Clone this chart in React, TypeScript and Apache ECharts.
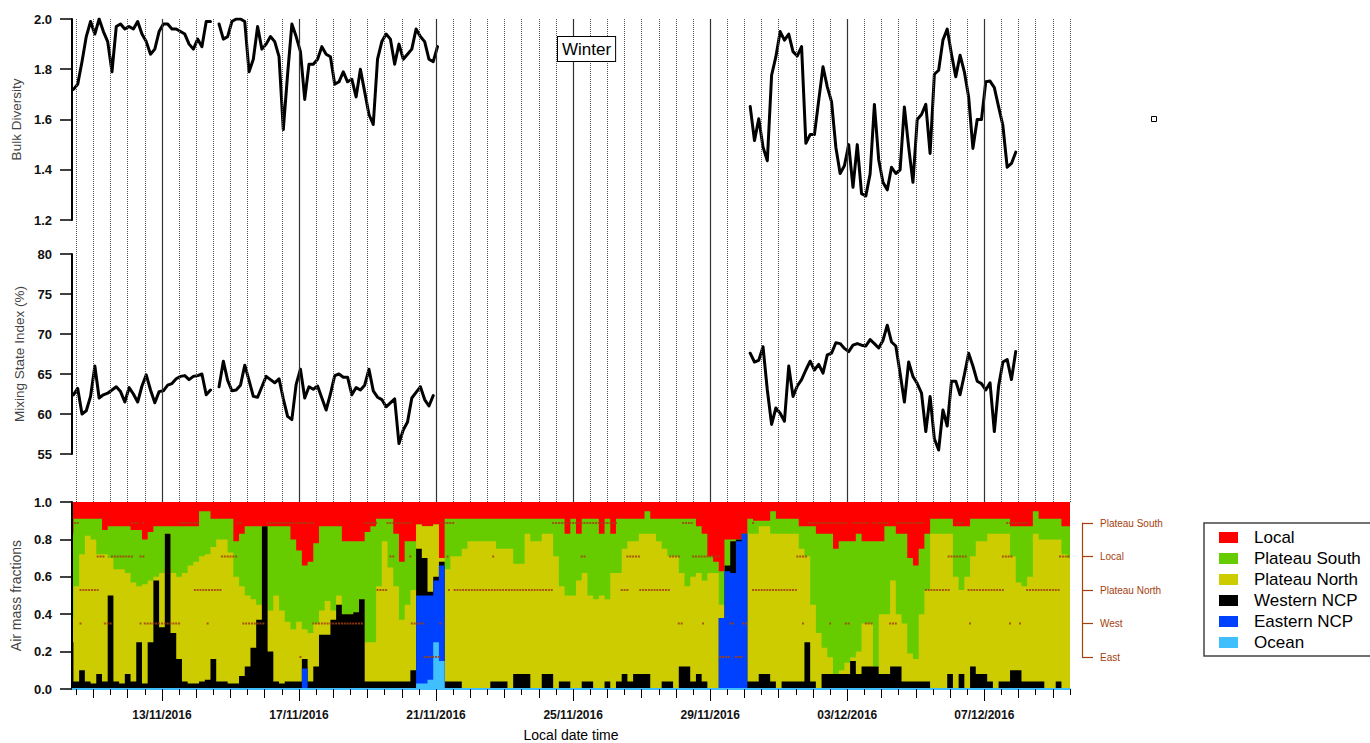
import React, { useEffect, useRef } from "react";
import * as echarts from "echarts";

const FONT = "'Liberation Sans', Arial, Helvetica, sans-serif";

// x axis in hours after 10/11/2016 00:00 local time
const X_MIN = 9;
const X_MAX = 708;
const TICK_HOURS = [72, 168, 264, 360, 456, 552, 648];
const TICK_LABELS = ["13/11/2016", "17/11/2016", "21/11/2016", "25/11/2016", "29/11/2016", "03/12/2016", "07/12/2016"];
const GRID_STEP_HOURS = 12;
const DAY_HOURS = 24;

// ---- Bulk diversity (3-hourly, from hour 10) ----
const TS_START = 10;
const TS_STEP = 3;
const SEG_OFFSETS = [0, 34, 158];
const BD_SEG1 = [1.72, 1.74, 1.83, 1.93, 1.99, 1.94, 2.0, 1.95, 1.91, 1.79, 1.97, 1.98, 1.96, 1.97, 1.96, 1.99, 1.94, 1.91, 1.86, 1.88, 1.95, 1.98, 1.98, 1.96, 1.96, 1.95, 1.94, 1.9, 1.88, 1.92, 1.89, 1.99, 1.99];
const BD_SEG2 = [1.98, 1.92, 1.93, 1.99, 2.0, 2.0, 1.99, 1.79, 1.84, 1.97, 1.88, 1.9, 1.93, 1.91, 1.85, 1.56, 1.78, 1.98, 1.93, 1.87, 1.68, 1.82, 1.82, 1.84, 1.89, 1.86, 1.85, 1.74, 1.75, 1.79, 1.75, 1.76, 1.69, 1.8, 1.71, 1.62, 1.58, 1.84, 1.91, 1.94, 1.92, 1.82, 1.9, 1.84, 1.86, 1.88, 1.96, 1.93, 1.91, 1.84, 1.83, 1.89];
const BD_SEG3 = [1.652, 1.516, 1.603, 1.49, 1.436, 1.776, 1.85, 1.95, 1.916, 1.94, 1.87, 1.853, 1.89, 1.505, 1.54, 1.54, 1.676, 1.81, 1.73, 1.67, 1.49, 1.385, 1.416, 1.5, 1.33, 1.5, 1.305, 1.296, 1.383, 1.66, 1.44, 1.35, 1.32, 1.41, 1.385, 1.4, 1.65, 1.49, 1.35, 1.6, 1.62, 1.66, 1.465, 1.78, 1.796, 1.916, 1.96, 1.86, 1.77, 1.856, 1.79, 1.69, 1.485, 1.6, 1.6, 1.75, 1.753, 1.727, 1.65, 1.576, 1.41, 1.425, 1.47];

// ---- Mixing state index (%) ----
const MSI_SEG1 = [62.4, 63.2, 60.0, 60.4, 62.2, 66.0, 62.0, 62.4, 62.6, 63.0, 63.4, 62.8, 61.5, 63.3, 62.5, 61.5, 63.5, 64.9, 63.0, 61.4, 62.8, 62.9, 63.6, 63.8, 64.4, 64.7, 64.8, 64.3, 64.7, 64.8, 65.0, 62.4, 63.0];
const MSI_SEG2 = [63.4, 66.6, 64.2, 62.9, 63.0, 63.6, 66.1, 64.2, 62.2, 62.1, 63.4, 64.7, 64.3, 63.9, 64.4, 61.9, 59.7, 59.3, 63.7, 65.6, 62.0, 63.4, 63.1, 63.5, 62.0, 60.5, 62.5, 64.8, 65.0, 64.6, 64.6, 62.4, 63.3, 63.0, 63.6, 65.6, 62.9, 62.1, 61.8, 60.9, 61.4, 61.9, 56.3, 58.0, 59.0, 62.0, 62.7, 63.4, 61.8, 61.0, 62.3];
const MSI_SEG3 = [67.6, 66.5, 66.7, 68.4, 63.0, 58.7, 60.75, 60.1, 59.1, 66.0, 62.2, 63.5, 64.3, 65.5, 66.6, 65.5, 66.2, 65.1, 67.4, 67.6, 68.9, 68.8, 68.2, 67.8, 68.6, 68.8, 68.6, 68.5, 69.3, 68.8, 68.25, 69.2, 71.1, 69.0, 68.5, 65.1, 61.5, 66.5, 64.7, 63.8, 62.6, 57.8, 62.2, 56.9, 55.5, 60.5, 58.5, 64.1, 64.1, 62.4, 64.9, 67.6, 66.0, 64.1, 63.8, 63.0, 63.9, 57.8, 63.5, 66.5, 66.8, 64.3, 67.8];

// ---- Air mass fractions (4-hourly, from hour 8) ----
const AM_START = 8;
const AM_STEP = 4;
const LOCAL = [
  .17, .09, .09, .09, .09, .09, .15, .13, .13, .13,
  .13, .15, .15, .20, .16, .13, .13, .13, .13, .13,
  .13, .13, .13, .05, .05, .09, .09, .09, .09, .21,
  .17, .13, .13, .13, .13, .13, .13, .13, .13, .20,
  .26, .34, .32, .22, .13, .13, .13, .13, .21, .21,
  .21, .21, .16, .13, .09, .09, .09, .17, .32, .21,
  .21, .12, .13, .13, .12, .30, .09, .09, .09, .09,
  .09, .09, .09, .09, .09, .09, .09, .09, .09, .09,
  .09, .09, .09, .09, .09, .09, .09, .17, .09, .17,
  .09, .09, .09, .17, .09, .17, .09, .09, .09, .09,
  .09, .05, .09, .09, .09, .09, .09, .09, .09, .09,
  .13, .17, .29, .32, .37, .20, .20, .20, .17, .09,
  .10, .10, .10, .05, .09, .09, .09, .09, .13, .13,
  .13, .17, .17, .17, .25, .21, .21, .21, .17, .21,
  .21, .21, .21, .13, .13, .17, .17, .30, .34, .25,
  .17, .09, .09, .09, .09, .13, .13, .13, .09, .09,
  .09, .09, .09, .09, .09, .13, .13, .13, .13, .05,
  .09, .09, .09, .09, .13, .13,
];
const PLATEAU_SOUTH = [
  .45, .36, .19, .09, .11, .19, .13, .17, .23, .23,
  .25, .28, .30, .24, .26, .27, .25, .04, .25, .27,
  .25, .21, .19, .24, .23, .15, .11, .11, .18, .19,
  .28, .37, .39, .42, 0, .45, .37, .45, .51, .48,
  .38, .34, .38, .43, .45, .40, .45, .37, .39, .39,
  .38, .31, .59, .62, .36, .12, .26, .28, .31, .34,
  .26, 0, 0, 0, 0, 0, .27, .20, .20, .16,
  .12, .12, .12, .12, .12, .16, .16, .16, .24, .24,
  .08, .12, .12, .08, .08, .20, .36, .33, .41, .25,
  .29, .41, .43, .33, .43, .21, .29, .16, .12, .12,
  .08, .12, .08, .12, .16, .20, .20, .29, .36, .31,
  .25, .25, .09, .06, .18, .14, .01, 0, 0, .08,
  .07, .03, .03, .12, .08, .08, .08, .08, .12, .16,
  .42, .53, .61, .66, .67, .69, .65, .62, .63, .44,
  .44, .67, .39, .47, .29, .43, .48, .51, .50, .35,
  .30, .08, .08, .08, .08, .27, .34, .27, .20, .12,
  .12, .08, .08, .08, .08, .16, .30, .32, .27, .12,
  .11, .11, .11, .11, .15, .17,
];
const PLATEAU_NORTH = [
  .13, .51, .62, .78, .77, .64, .68, .20, .60, .61,
  .54, .53, .30, .53, .33, .02, .29, 0, .32, .44,
  .58, .63, .65, .67, .67, .60, .76, .76, .70, .57,
  .48, .38, .26, .08, 0, .22, .46, .39, .32, .28,
  .32, .16, .26, .23, .13, .18, .05, .05, 0, 0,
  0, 0, .21, .21, .51, .75, .61, .51, .33, .41,
  .43, .13, .17, .35, .28, .02, .60, .67, .67, .75,
  .79, .79, .79, .79, .75, .71, .71, .75, .59, .59,
  .75, .79, .79, .75, .75, .71, .51, .46, .50, .58,
  .58, .46, .48, .50, .44, .62, .58, .67, .75, .71,
  .75, .75, .83, .79, .71, .67, .71, .50, .43, .56,
  .54, .54, .62, .62, .07, 0, 0, 0, 0, .79,
  .79, .79, .79, .79, .83, .79, .79, .79, .71, .46,
  .41, .30, .14, .09, 0, .02, .06, .02, .12, .23,
  .23, 0, .32, .32, .46, .28, .31, .15, .12, .36,
  .49, .83, .83, .83, .75, .60, .45, .60, .59, .71,
  .71, .79, .83, .79, .79, .61, .47, .51, .56, .79,
  .76, .80, .80, .76, .72, .70,
];
const WESTERN_NCP = [
  .25, .04, .10, .04, .03, .08, .04, .50, .04, .03,
  .08, .04, .25, .03, .25, .58, .33, .83, .30, .16,
  .04, .03, .03, .04, .05, .16, .04, .04, .03, .03,
  .07, .12, .22, .37, .87, .20, .04, .03, .04, .04,
  .04, .05, .04, .12, .29, .29, .37, .45, .40, .40,
  .41, .48, .04, .04, .04, .04, .04, .04, .04, .04,
  .10, .25, .20, .02, .02, .02, .04, .04, .04, 0,
  0, 0, 0, 0, .04, .04, .04, 0, .08, .08,
  .08, 0, 0, .08, .08, 0, .04, .04, 0, 0,
  .04, .04, 0, 0, .04, 0, .04, .08, .04, .08,
  .08, .08, 0, 0, .04, .04, 0, .12, .12, .04,
  .08, .04, 0, 0, 0, .03, .17, .01, 0, .04,
  .04, .08, .08, .04, 0, .04, .04, .04, .04, .25,
  .04, 0, .08, .08, .08, .08, .08, .15, .08, .12,
  .12, .12, .08, .08, .12, .12, .04, .04, .04, .04,
  .04, 0, 0, 0, .08, 0, .08, 0, .12, .08,
  .08, .04, 0, .04, .04, .10, .10, .04, .04, .04,
  .04, 0, 0, .04, 0, 0,
];
// [hour, fraction]; zero elsewhere
const EASTERN_NCP = [[172, .11], [252, .47], [256, .47], [260, .45], [264, .33], [268, .51], [464, .38], [468, .63], [472, .62], [476, .79], [480, .83]];
const OCEAN = [[252, .03], [256, .03], [260, .05], [264, .25], [268, .15]];

// ---- Cluster markers (right axis), [startHour, endHour] ----
const MARK_LEVELS = ["East", "West", "Plateau North", "Local", "Plateau South"];
const MARK_EAST = [[169, 169], [256, 267], [463, 470], [474, 479]];
const MARK_WEST = [[9, 9], [15, 15], [32, 37], [57, 57], [60, 85], [104, 104], [129, 144], [178, 213], [247, 255], [267, 267], [434, 437], [451, 451], [470, 472], [479, 482], [521, 521], [540, 540], [551, 554], [565, 570], [582, 586], [638, 638], [666, 666], [673, 673]];
const MARK_PN = [[15, 27], [95, 113], [223, 230], [273, 273], [277, 345], [394, 398], [407, 428], [486, 517], [607, 624], [637, 661], [678, 701]];
const MARK_LOCAL = [[27, 31], [37, 51], [57, 59], [114, 125], [232, 234], [246, 246], [272, 272], [304, 304], [366, 368], [398, 407], [428, 434], [444, 463], [517, 524], [623, 636], [661, 668], [701, 707]];
const MARK_PS = [[9, 13], [51, 55], [59, 59], [85, 97], [125, 127], [146, 178], [214, 223], [230, 246], [268, 277], [346, 391], [437, 444], [486, 486], [525, 551], [556, 566], [570, 580], [587, 605], [629, 633], [664, 678]];

const COLORS = {
  Local: "#ff0000",
  "Plateau South": "#66cc00",
  "Plateau North": "#cccc00",
  "Western NCP": "#000000",
  "Eastern NCP": "#0040ff",
  Ocean: "#40bfff",
};
const BROWN = "#a5410e";

function buildSeries(segs: number[][]) {
  const out: any[] = [];
  segs.forEach((vals, s) => {
    const off = SEG_OFFSETS[s];
    vals.forEach((v, j) => out.push([TS_START + TS_STEP * (off + j), v]));
    out.push([TS_START + TS_STEP * (off + vals.length), "-"]);
  });
  return out;
}

function buildOption() {
  const grid = { left: 72, right: 300 };
  const amHours = LOCAL.map((_, i) => AM_START + AM_STEP * i);
  const sparse = (pairs: number[][]) => {
    const m = new Map(pairs.map((p) => [p[0], p[1]]));
    return amHours.map((h) => m.get(h) ?? 0);
  };
  const layers = [
    { name: "Ocean", vals: sparse(OCEAN) },
    { name: "Eastern NCP", vals: sparse(EASTERN_NCP) },
    { name: "Western NCP", vals: WESTERN_NCP },
    { name: "Plateau North", vals: PLATEAU_NORTH },
    { name: "Plateau South", vals: PLATEAU_SOUTH },
    { name: "Local", vals: LOCAL },
  ];
  let cum = amHours.map(() => 0);
  const cumLayers = layers.map((l) => {
    cum = cum.map((c, i) => c + l.vals[i]);
    return { name: l.name, top: cum.slice() };
  });
  const areaSeries = cumLayers
    .slice()
    .reverse()
    .map((l) => {
      const c = (COLORS as any)[l.name];
      return {
        type: "line",
        name: l.name,
        xAxisIndex: 2,
        yAxisIndex: 2,
        step: "middle",
        symbol: "none",
        color: c,
        itemStyle: { color: c },
        lineStyle: { width: 0, color: c },
        areaStyle: { color: c, opacity: 1, origin: "start" },
        data: l.top.map((v, i) => [amHours[i], v]),
        z: 2,
        silent: true,
      };
    });

  const markerData: number[][] = [];
  [MARK_EAST, MARK_WEST, MARK_PN, MARK_LOCAL, MARK_PS].forEach((segs, li) => {
    segs.forEach(([a, b]) => {
      for (let h = a; h <= b; h += 2) markerData.push([h, li + 1]);
    });
  });

  const halfDayTicks: number[] = [];
  for (let h = GRID_STEP_HOURS; h <= X_MAX; h += GRID_STEP_HOURS) halfDayTicks.push(h);
  const dayTicks = halfDayTicks.filter((h) => h % DAY_HOURS === 0);

  const vlineData = halfDayTicks.map((h) =>
    TICK_HOURS.includes(h)
      ? { xAxis: h, lineStyle: { type: "solid", color: "#333", width: 1.2 } }
      : { xAxis: h, lineStyle: { type: "dotted", color: "#555", width: 1 } }
  );

  const hiddenX = (gridIndex: number) => ({ gridIndex, type: "value", min: X_MIN, max: X_MAX, show: false });
  const tickX = (gridIndex: number, ticks: number[], length: number) => ({
    gridIndex,
    type: "value",
    min: X_MIN,
    max: X_MAX,
    axisLine: { show: false },
    axisTick: { show: true, length, customValues: ticks, lineStyle: { color: "#000", width: 1 } },
    axisLabel: { show: false },
    splitLine: { show: false },
    z: 5,
  });
  const leftY = (gridIndex: number, min: number, max: number, interval: number, name: string, nameGap: number, nameSize: number, dec: number) => ({
    gridIndex,
    type: "value",
    min,
    max,
    interval,
    position: "left",
    name,
    nameLocation: "middle",
    nameGap,
    nameTextStyle: { fontSize: nameSize, color: "#444", fontFamily: FONT },
    axisLine: { show: true, onZero: false, lineStyle: { color: "#000", width: 2 } },
    axisTick: { show: true, length: 12, lineStyle: { color: "#000", width: 1.5 } },
    axisLabel: { fontSize: 13, fontWeight: "bold", color: "#111", fontFamily: FONT, margin: 20, formatter: (v: number) => v.toFixed(dec) },
    splitLine: { show: false },
    z: 5,
  });

  return {
    animation: false,
    backgroundColor: "#fff",
    textStyle: { fontFamily: FONT },
    grid: [
      { ...grid, top: 19, height: 201 },
      { ...grid, top: 254, height: 200 },
      { ...grid, top: 502, height: 187 },
      { ...grid, top: 502, height: 187 },
      { ...grid, top: 523, height: 134 },
      { ...grid, top: 19, height: 483 },
      { ...grid, top: 502, height: 187 },
    ],
    xAxis: [
      hiddenX(0),
      hiddenX(1),
      {
        ...tickX(2, halfDayTicks, 6),
        axisLine: { show: true, onZero: false, lineStyle: { color: "#40bfff", width: 2 } },
      },
      {
        ...tickX(3, TICK_HOURS, 12),
        axisLabel: {
          customValues: TICK_HOURS,
          fontSize: 12,
          fontWeight: "bold",
          color: "#111",
          fontFamily: FONT,
          margin: 20,
          formatter: (v: number) => TICK_LABELS[TICK_HOURS.indexOf(Math.round(v))] ?? "",
        },
        name: "Local date time",
        nameLocation: "middle",
        nameGap: 39,
        nameTextStyle: { fontSize: 14, color: "#000", fontFamily: FONT },
      },
      hiddenX(4),
      hiddenX(5),
      tickX(6, dayTicks, 9),
    ],
    yAxis: [
      leftY(0, 1.2, 2.0, 0.2, "Bulk Diversity", 46, 13.5, 1),
      leftY(1, 55, 80, 5, "Mixing State Index (%)", 46, 13.5, 0),
      leftY(2, 0, 1, 0.2, "Air mass fractions", 43, 14, 1),
      { gridIndex: 3, type: "value", min: 0, max: 1, show: false },
      {
        gridIndex: 4,
        type: "value",
        position: "right",
        offset: 12,
        min: 1,
        max: 5,
        interval: 1,
        axisLine: { show: true, onZero: false, lineStyle: { color: BROWN, width: 1.2 } },
        axisTick: { show: true, length: 11, lineStyle: { color: BROWN, width: 1.2 } },
        axisLabel: { color: BROWN, fontSize: 10, fontFamily: FONT, margin: 18, formatter: (v: number) => MARK_LEVELS[Math.round(v) - 1] ?? "" },
        splitLine: { show: false },
      },
      { gridIndex: 5, type: "value", min: 0, max: 1, show: false },
      { gridIndex: 6, type: "value", min: 0, max: 1, show: false },
    ],
    legend: {
      orient: "vertical",
      left: 1204,
      top: 523,
      data: ["Local", "Plateau South", "Plateau North", "Western NCP", "Eastern NCP", "Ocean"],
      icon: "rect",
      itemWidth: 19,
      itemHeight: 11,
      itemGap: 4,
      selectedMode: false,
      textStyle: { fontSize: 17, color: "#000", fontFamily: FONT, padding: [0, 0, 0, 11] },
      borderColor: "#444",
      borderWidth: 1.5,
      padding: [6, 30, 5, 15],
      backgroundColor: "#fff",
    },
    graphic: [
      {
        type: "text",
        left: 557,
        top: 36,
        z: 20,
        style: {
          text: "Winter",
          fontSize: 17,
          fontFamily: FONT,
          fill: "#000",
          backgroundColor: "#fff",
          borderColor: "#000",
          borderWidth: 1,
          padding: [4, 4, 3, 4],
        },
      },
      {
        type: "rect",
        left: 1151,
        top: 116,
        shape: { width: 5, height: 5 },
        style: { fill: "#fff", stroke: "#000", lineWidth: 1 },
      },
    ],
    series: [
      {
        type: "line",
        name: "gridlines",
        xAxisIndex: 5,
        yAxisIndex: 5,
        data: [[X_MIN, 0]],
        symbol: "none",
        lineStyle: { opacity: 0 },
        silent: true,
        z: 1,
        markLine: { silent: true, symbol: ["none", "none"], label: { show: false }, animation: false, data: vlineData },
      },
      {
        type: "line",
        name: "Bulk Diversity",
        xAxisIndex: 0,
        yAxisIndex: 0,
        data: buildSeries([BD_SEG1, BD_SEG2, BD_SEG3]),
        symbol: "none",
        connectNulls: false,
        lineStyle: { color: "#000", width: 3, join: "round", cap: "round" },
        z: 3,
        silent: true,
      },
      {
        type: "line",
        name: "Mixing State Index",
        xAxisIndex: 1,
        yAxisIndex: 1,
        data: buildSeries([MSI_SEG1, MSI_SEG2, MSI_SEG3]),
        symbol: "none",
        connectNulls: false,
        lineStyle: { color: "#000", width: 3, join: "round", cap: "round" },
        z: 3,
        silent: true,
      },
      ...areaSeries,
      {
        type: "scatter",
        name: "cluster",
        xAxisIndex: 4,
        yAxisIndex: 4,
        data: markerData,
        symbol: "rect",
        symbolSize: [2, 2],
        itemStyle: { color: BROWN, opacity: 0.85 },
        silent: true,
        z: 4,
      },
    ],
  };
}

export default function App() {
  const ref = useRef<HTMLDivElement>(null);
  useEffect(() => {
    if (!ref.current) return;
    const chart = echarts.init(ref.current, null, { renderer: "svg" });
    chart.setOption(buildOption() as any);
    return () => chart.dispose();
  }, []);
  return (
    <div
      ref={ref}
      style={{ position: "absolute", left: 0, top: 0, width: 1370, height: 743, background: "#fff" }}
    />
  );
}
